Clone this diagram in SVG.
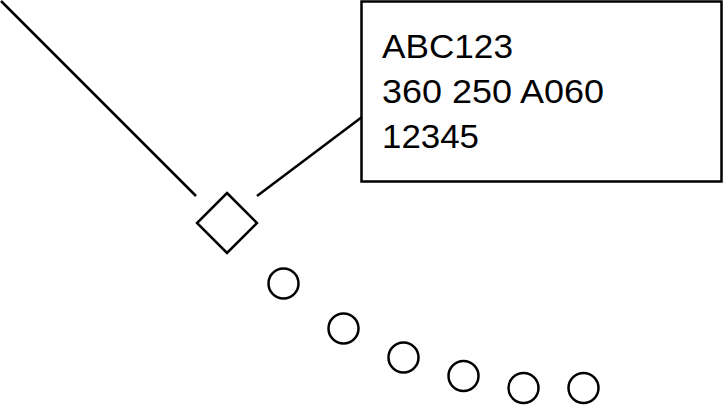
<svg xmlns="http://www.w3.org/2000/svg" width="723" height="405" viewBox="0 0 723 405">
<style>
.s{fill:none;stroke:#000;stroke-width:2.5}
.t{font-family:"Liberation Sans",Arial,sans-serif;font-size:33px;fill:#000}
</style>
<rect width="723" height="405" fill="#fff"/>
<g id="connectors">
<line class="s" x1="1" y1="1" x2="196" y2="196"/>
<line class="s" x1="257" y1="196" x2="362" y2="117"/>
</g>
<g id="diamond"><polygon class="s" points="227,193 257,223 227,253 197,223"/></g>
<g id="label">
<rect class="s" x="361.5" y="1.5" width="360" height="180"/>
<text class="t" x="382" y="58" textLength="131" lengthAdjust="spacingAndGlyphs">ABC123</text>
<text class="t" x="382" y="103" textLength="222" lengthAdjust="spacingAndGlyphs">360 250 A060</text>
<text class="t" x="382" y="148" textLength="97" lengthAdjust="spacingAndGlyphs">12345</text>
</g>
<g id="c1"><circle class="s" cx="283.5" cy="283.5" r="15"/></g>
<g id="c2"><circle class="s" cx="343.5" cy="328.5" r="15"/></g>
<g id="c3"><circle class="s" cx="403.5" cy="357.5" r="15"/></g>
<g id="c4"><circle class="s" cx="463.5" cy="376" r="15"/></g>
<g id="c5"><circle class="s" cx="523.5" cy="388" r="15"/></g>
<g id="c6"><circle class="s" cx="583.5" cy="388" r="15"/></g>
</svg>
